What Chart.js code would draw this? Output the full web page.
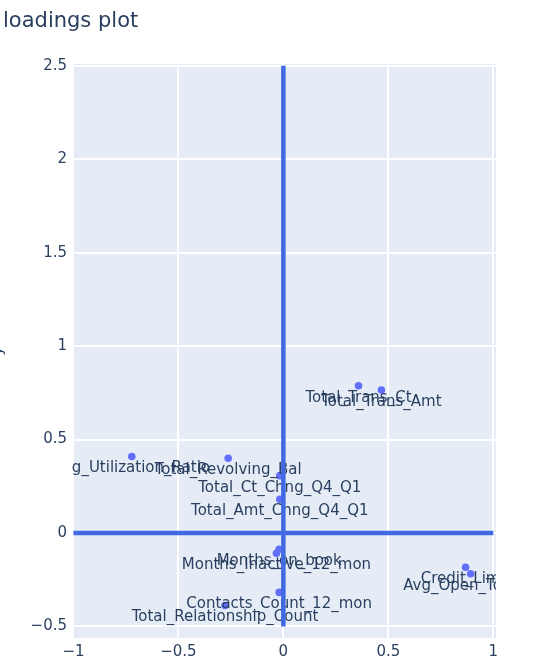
<!DOCTYPE html>
<html>
<head>
<meta charset="utf-8">
<script src="https://cdn.jsdelivr.net/npm/chart.js@4.4.1/dist/chart.umd.min.js"></script>
<style>
  body { margin: 0; background: #fff; }
  #wrap { width: 548px; height: 672px; }
</style>
</head>
<body>
<div id="wrap"><canvas id="loadings" width="548" height="672"></canvas></div>
<script>
// loadings: feature names with PC1 (x) and PC2 (y) values
const features = ['Total_Trans_Ct', 'Total_Trans_Amt', 'Avg_Utilization_Ratio', 'Total_Revolving_Bal',
    'Total_Ct_Chng_Q4_Q1', 'Total_Amt_Chng_Q4_Q1', 'Months_on_book', 'Months_Inactive_12_mon',
    'Credit_Limit', 'Avg_Open_To_Buy', 'Contacts_Count_12_mon', 'Total_Relationship_Count']
const pc1 = [0.358, 0.467, -0.722, -0.263, -0.017, -0.017, -0.020, -0.033, 0.868, 0.892, -0.020, -0.278]
const pc2 = [0.788, 0.765, 0.409, 0.400, 0.307, 0.180, -0.087, -0.109, -0.183, -0.218, -0.318, -0.388]

const xTicks = [-1, -0.5, 0, 0.5, 1]
const yTicks = [-0.5, 0, 0.5, 1, 1.5, 2, 2.5]
const fmt = v => String(v).replace('-', '\u2212')

const textColor = '#2a3f5f'
const font = '"DejaVu Sans", Verdana, sans-serif'

// title, y axis title and point labels (plotly look)
const extras = {
    id: 'extras',
    afterDatasetDraw(chart, args) {
        if (args.index !== 0) return
        const ctx = chart.ctx
        const area = chart.chartArea
        const meta = chart.getDatasetMeta(0)
        ctx.save()
        ctx.beginPath()
        ctx.rect(area.left, area.top, area.right - area.left, area.bottom - area.top)
        ctx.clip()
        ctx.fillStyle = textColor
        ctx.font = '15px ' + font
        ctx.textAlign = 'center'
        ctx.textBaseline = 'middle'
        meta.data.forEach((pt, i) => {
            ctx.fillText(features[i], pt.x, pt.y + 12)
        })
        ctx.restore()
    },
    afterDraw(chart) {
        const ctx = chart.ctx
        ctx.save()
        ctx.fillStyle = textColor
        ctx.font = '21px ' + font
        ctx.textAlign = 'left'
        ctx.textBaseline = 'alphabetic'
        ctx.fillText('loadings plot', 3, 27)
        // y title, mostly cut off at the left edge
        ctx.translate(2, 351)
        ctx.rotate(-Math.PI / 2)
        ctx.font = '15px ' + font
        ctx.textAlign = 'center'
        ctx.fillText('y', 0, 0)
        ctx.restore()
    }
}

const bg = {
    id: 'bg',
    beforeDraw(chart) {
        const a = chart.chartArea
        chart.ctx.save()
        chart.ctx.fillStyle = '#e5ecf6'
        chart.ctx.fillRect(a.left, a.top, a.right - a.left, a.bottom - a.top)
        chart.ctx.restore()
    }
}

const chart = new Chart(document.getElementById('loadings'), {
    type: 'scatter',
    data: {
        datasets: [{
            label: 'loadings',
            data: pc1.map((x, i) => ({ x: x, y: pc2[i] })),
            backgroundColor: '#636efa',
            borderWidth: 0,
            pointRadius: 3.8,
            order: 2
        }, {
            label: 'x0',
            type: 'line',
            data: [{ x: 0, y: -0.5 }, { x: 0, y: 2.5 }],
            borderColor: '#4169e1',
            borderWidth: 4.5,
            pointRadius: 0,
            fill: false,
            order: 1
        }, {
            label: 'y0',
            type: 'line',
            data: [{ x: -1, y: 0 }, { x: 1, y: 0 }],
            borderColor: '#4169e1',
            borderWidth: 4.5,
            pointRadius: 0,
            fill: false,
            order: 1
        }]
    },
    options: {
        responsive: false,
        animation: false,
        layout: { padding: { top: 64, right: 52, left: 0, bottom: 0 } },
        plugins: {
            legend: { display: false },
            title: { display: false },
            tooltip: { enabled: false }
        },
        scales: {
            x: {
                type: 'linear',
                min: -1.007,
                max: 1.013,
                afterFit: s => { s.height = 34 },
                afterBuildTicks: s => { s.ticks = xTicks.map(v => ({ value: v })) },
                grid: { color: '#ffffff', lineWidth: 2, drawTicks: false },
                border: { display: false },
                ticks: {
                    callback: v => fmt(v),
                    color: textColor,
                    font: { family: font, size: 15 },
                    padding: 5,
                    maxRotation: 0
                }
            },
            y: {
                type: 'linear',
                min: -0.562,
                max: 2.51,
                afterFit: s => { s.width = 72 },
                afterBuildTicks: s => { s.ticks = yTicks.map(v => ({ value: v })) },
                grid: { color: '#ffffff', lineWidth: 2, drawTicks: false },
                border: { display: false },
                ticks: {
                    callback: v => fmt(v),
                    color: textColor,
                    font: { family: font, size: 15 },
                    padding: 5
                }
            }
        }
    },
    plugins: [bg, extras]
})
</script>
</body>
</html>
